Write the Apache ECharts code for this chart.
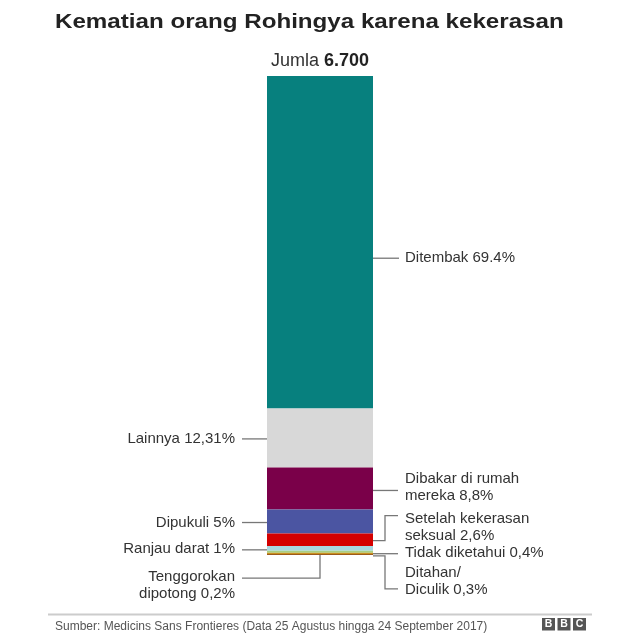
<!DOCTYPE html>
<html><head><meta charset="utf-8">
<script src="https://cdn.jsdelivr.net/npm/echarts@6/dist/echarts.min.js"></script>
<style>html,body{margin:0;padding:0;background:#fff}#c{width:640px;height:640px}</style>
</head><body><div id="c"></div>
<script>
const categories = ['Ditembak','Lainnya','Dibakar di rumah mereka','Dipukuli','Setelah kekerasan seksual','Ranjau darat','Tidak diketahui','Ditahan/Diculik','Tenggorokan dipotong'];
const values = [69.4, 12.31, 8.8, 5, 2.6, 1, 0.4, 0.3, 0.2];
const labelTexts = ['Ditembak 69.4%','Lainnya 12,31%','Dibakar di rumah\nmereka 8,8%','Dipukuli 5%','Setelah kekerasan\nseksual 2,6%','Ranjau darat 1%','Tidak diketahui 0,4%','Ditahan/\nDiculik 0,3%','Tenggorokan\ndipotong 0,2%'];
const colors = ['#07807e','#d8d8d8','#7a0049','#4b55a2','#d40000','#a8d8e2','#a9cf82','#c8901e','#9c5a1c'];
const totalLabel = '6.700';

const FONT = '"Liberation Sans", Arial, Helvetica, sans-serif';
const chart = echarts.init(document.getElementById('c'), null, {renderer:'canvas'});
const BW = 106;
chart.setOption({
  animation:false,
  backgroundColor:'#fff',
  grid:{left:100,right:100,top:76,bottom:85},
  xAxis:{type:'category',data:['total'],show:false},
  yAxis:{type:'value',min:0,max:100,inverse:true,show:false},
  series: values.map((v,i)=>({
    name:categories[i], type:'bar', stack:'all', data:[v], barWidth:BW,
    itemStyle:{color:colors[i]}, silent:true
  }))
});

// compute layout from scales
const cum=[0]; values.forEach(v=>cum.push(cum[cum.length-1]+v));
const py = v => chart.convertToPixel({yAxisIndex:0}, v);
const cx = chart.convertToPixel({xAxisIndex:0}, 'total');
const xL = cx - BW/2, xR = cx + BW/2;
const seg = values.map((v,i)=>({top:py(cum[i]),bot:py(cum[i+1]),mid:(py(cum[i])+py(cum[i+1]))/2}));
const LC = '#777', TC = '#333', FS = 15;
const g = [];
function line(pts){ g.push({type:'polyline',shape:{points:pts},style:{stroke:LC,lineWidth:1.3,fill:null}}); }
function text(x,y,t,align){ g.push({type:'text',x:x,y:y,style:{text:t,font:FS+'px '+FONT,fill:TC,textAlign:align,textVerticalAlign:'middle',lineHeight:17}}); }
const RX = xR+32, LX = xL-32;
// 0 Ditembak
let y=seg[0].mid+16; line([[xR,y],[xR+26,y]]); text(RX,y,labelTexts[0],'left');
// 1 Lainnya
y=seg[1].mid+1; line([[xL-25,y],[xL,y]]); text(LX,y,labelTexts[1],'right');
// 2 Dibakar
y=seg[2].mid+2; line([[xR,y],[xR+25,y]]); text(RX,y-3,labelTexts[2],'left');
// 3 Dipukuli
y=seg[3].mid+1; line([[xL-25,y],[xL,y]]); text(LX,y,labelTexts[3],'right');
// 4 Setelah kekerasan seksual (elbow up)
y=seg[4].mid+1; line([[xR,y],[xR+12,y],[xR+12,y-25],[xR+25,y-25]]); text(RX,y-13,labelTexts[4],'left');
// 5 Ranjau darat
y=seg[5].mid+1.5; line([[xL-25,y],[xL,y]]); text(LX,y-1,labelTexts[5],'right');
// 6 Tidak diketahui
y=seg[6].mid+2; line([[xR,y],[xR+25,y]]); text(RX,y-1,labelTexts[6],'left');
// 7 Ditahan (elbow down)
y=seg[7].mid+2.5; line([[xR,y],[xR+12,y],[xR+12,y+33],[xR+25,y+33]]); text(RX,y+25,labelTexts[7],'left');
// 8 Tenggorokan (down from bar bottom then left)
y=seg[8].bot; line([[cx,y],[cx,y+23],[xL-25,y+23]]); text(LX,y+30,labelTexts[8],'right');

// title, total, footer
g.push({type:'text',x:55,y:22,scaleX:1.15,style:{text:'Kematian orang Rohingya karena kekerasan',font:'bold 21px '+FONT,fill:'#222',textVerticalAlign:'middle'}});
g.push({type:'text',x:cx,y:seg[0].top-15,style:{rich:{a:{font:'18px '+FONT,fill:'#333'},b:{font:'bold 18px '+FONT,fill:'#222'}},text:'{a|Jumla }{b|'+totalLabel+'}',textAlign:'center',textVerticalAlign:'middle'}});
g.push({type:'line',shape:{x1:48,y1:614.5,x2:592,y2:614.5},style:{stroke:'#cccccc',lineWidth:2}});
g.push({type:'text',x:55,y:627,style:{text:'Sumber: Medicins Sans Frontieres (Data 25 Agustus hingga 24 September 2017)',font:'12px '+FONT,fill:'#555',textVerticalAlign:'middle'}});
['B','B','C'].forEach((ch,i)=>{
  const x0=542+i*15.5;
  g.push({type:'rect',shape:{x:x0,y:618,width:13,height:12.5},style:{fill:'#555'}});
  g.push({type:'text',x:x0+6.5,y:624.6,style:{text:ch,font:'bold 10.5px '+FONT,fill:'#fff',textAlign:'center',textVerticalAlign:'middle'}});
});
chart.setOption({graphic:{elements:g}});
</script></body></html>
